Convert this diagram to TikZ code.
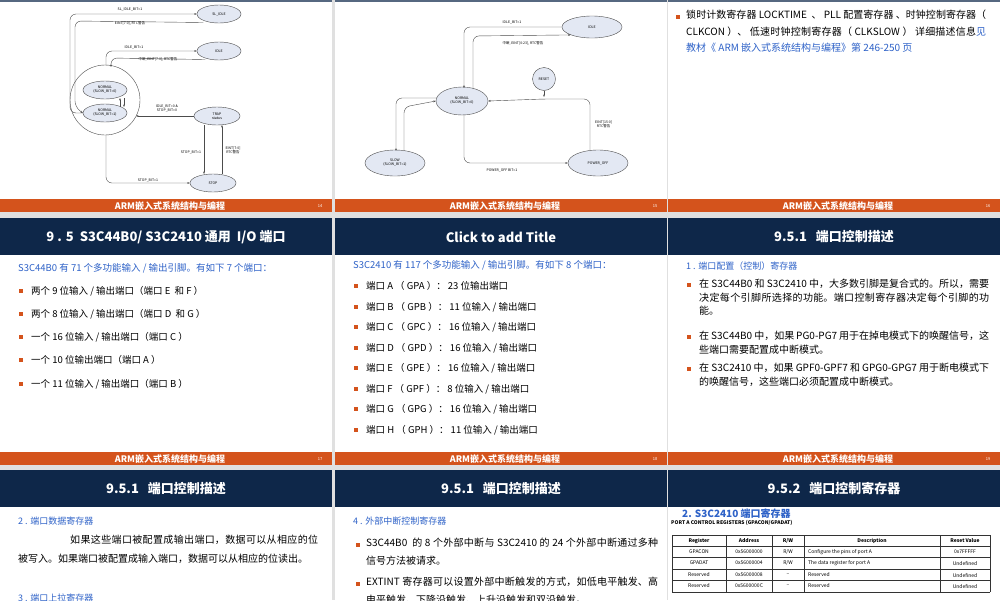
\documentclass[tikz,border=0pt]{standalone}
\usepackage{fontspec}
\setmainfont{Noto Sans CJK SC}
\XeTeXlinebreaklocale "zh"
\XeTeXlinebreakskip=0pt plus 1pt
\hyphenpenalty=10000 \exhyphenpenalty=10000
\usetikzlibrary{arrows.meta,shapes.geometric}
\definecolor{navy}{HTML}{0E2749}
\definecolor{orng}{HTML}{D4531C}
\definecolor{tblue}{HTML}{2E62C8}
\definecolor{ell}{HTML}{E3E8F3}
\tikzset{x=1pt,y=-1pt,
 hdr/.style={fill=navy,draw=none},
 foot/.style={fill=orng,draw=none},
 ftxt/.style={text=white,font=\fontsize{9}{9}\selectfont\bfseries},
 htxt/.style={text=white,font=\fontsize{13}{13}\selectfont\bfseries},
 st/.style={ellipse,draw=black!70,fill=ell,font=\fontsize{3.5}{4}\selectfont,align=center,inner sep=0pt},
 lb/.style={font=\fontsize{3.5}{4}\selectfont,align=center,inner sep=1pt},
 ar/.style={draw=black!70,line width=0.4pt,-{Stealth[length=2.5pt]},rounded corners=6pt},
 bt/.style={anchor=west,font=\fontsize{9.5}{10}\selectfont,inner sep=0pt},
 sq/.style={fill=orng,minimum size=4pt,inner sep=0pt},
 para/.style={anchor=north west,inner sep=0pt,align=justify},
 tc/.style={font=\fontsize{5}{5}\selectfont,inner sep=0pt},
}
\newcommand{\bul}[3]{\node[sq] at (#1,#2) {}; \node[bt] at (#1+10,#2) {#3};}
\begin{document}
\begin{tikzpicture}
\useasboundingbox (0,0) rectangle (1000,600);
\fill[black!12] (0,0) rectangle (1000,600);
\foreach \x in {0,335,668}{
 \fill[white] (\x,0) rectangle (\x+332,212);
 \fill[white] (\x,218) rectangle (\x+332,465);
 \fill[white] (\x,470) rectangle (\x+332,600);
 \fill[navy!70] (\x,0) rectangle (\x+332,1.5);
 \fill[foot] (\x,199) rectangle (\x+332,212);
 \fill[foot] (\x,452) rectangle (\x+332,465);
 \fill[hdr] (\x,218) rectangle (\x+332,255);
 \fill[hdr] (\x,470) rectangle (\x+332,507);
 \node[ftxt] at (\x+170,206) {ARM嵌入式系统结构与编程};
 \node[ftxt] at (\x+170,459) {ARM嵌入式系统结构与编程};
}
\foreach \x/\a/\b in {0/14/17,335/15/18,668/16/19}{
 \node[text=white,font=\fontsize{4}{4}\selectfont] at (\x+320,206) {\a};
 \node[text=white,font=\fontsize{4}{4}\selectfont] at (\x+320,459) {\b};
}
% ---- diagram 1
\draw[black!70,line width=0.4pt] (105,100) circle (35);
\node[st,minimum width=44pt,minimum height=18pt] (sli) at (219,14) {SL\_IDLE};
\node[st,minimum width=44pt,minimum height=18pt] (idl) at (219,51) {IDLE};
\node[st,minimum width=44pt,minimum height=18pt] (n0) at (105,90) {NORMAL\\(SLOW\_BIT=0)};
\node[st,minimum width=44pt,minimum height=18pt] (n1) at (105,113) {NORMAL\\(SLOW\_BIT=1)};
\node[st,minimum width=46pt,minimum height=18pt] (trp) at (217,116) {TRAP\\status};
\node[st,minimum width=46pt,minimum height=18pt] (stp) at (213,183) {STOP};
\draw[ar] (n1.west) -- (70,113) -- (70,14) -- (sli.west);
\draw[ar] (sli.south west) ++(0,2) -- (75,21) -- (75,107) -- (n1.west);
\node[lb] at (130,9) {SL\_IDLE\_BIT=1}; \node[lb] at (130,23) {EINT[7:0], RTC警告};
\draw[ar] (106,65) -- (106,51) -- (idl.west);
\draw[ar] (idl.south west) ++(2,2) -- (111,58) -- (111,67);
\node[lb] at (134,47) {IDLE\_BIT=1}; \node[lb] at (158,59) {中断, EINT[7:0], RTC警告};
\draw[ar] (124,98) -- (124,107);
\draw[ar] (120,107) -- (120,98);
\draw[ar] (trp.west) -- (136,116);
\node[lb] at (167,108) {IDLE\_BIT=0 \&\\STOP\_BIT=0};
\draw[ar] (204,125) -- (204,174);
\draw[ar] (222,174) -- (222,125);
\node[lb] at (191,152) {STOP\_BIT=1}; \node[lb] at (233,150) {EINT[7:0]\\RTC警告};
\draw[ar] (106,135) -- (106,183) -- (stp.west);
\node[lb] at (148,180) {STOP\_BIT=1};
% ---- diagram 2
\node[st,minimum width=60pt,minimum height=22pt] (i2) at (592,27) {IDLE};
\node[st,circle,minimum size=23pt] (rs) at (544,79) {RESET};
\node[st,minimum width=52pt,minimum height=28pt] (nm) at (462,101) {NORMAL\\(SLOW\_BIT=0)};
\node[st,minimum width=60pt,minimum height=26pt] (sl) at (395,163) {SLOW\\(SLOW\_BIT=1)};
\node[st,minimum width=60pt,minimum height=26pt] (po) at (598,163) {POWER\_OFF};
\draw[ar] (i2.west) -- (464,27) -- (464,88);
\draw[ar] (473,89) -- (473,36) -- (i2.south west);
\node[lb] at (512,22) {IDLE\_BIT=1}; \node[lb] at (523,43) {中断, EINT[0:23], RTC警告};
\draw[ar] (rs.south) -- (544,97);
\draw[ar] (590,151) -- (590,99) -- (544,99) -- (nm.east);
\node[lb,anchor=west] at (594,124) {EINT[15:0]\\RTC警告};
\draw[ar] (437,98) -- (396,98) -- (396,151);
\draw[ar] (404,151) -- (404,107) -- (nm.west);
\draw[ar] (464,115) -- (464,163) -- (po.west);
\node[lb] at (502,170) {POWER\_OFF BIT=1};
% ---- panel 16 text
\node[sq] at (678,17) {};
\node[para,text width=300pt,font=\fontsize{10}{16.5}\selectfont] at (686,10) {锁时计数寄存器 LOCKTIME \ 、 PLL 配置寄存器 、时钟控制寄存器（ CLKCON ）、 低速时钟控制寄存器（ CLKSLOW ） 详细描述信息{\color{tblue}见教材《 ARM 嵌入式系统结构与编程》第 246-250 页}};
% ---- headers
\node[htxt] at (166,237) {9 . 5 \ S3C44B0/ S3C2410 通用 \ I/O 端口};
\node[htxt] at (501,237) {Click to add Title};
\node[htxt] at (834,237) {9.5.1 \ \ 端口控制描述};
% panel 17
\node[bt,text=tblue] at (18,268) {S3C44B0 有 71 个多功能输入 / 输出引脚。有如下 7 个端口：};
\bul{21}{291}{两个 9 位输入 / 输出端口（端口 E \ 和 F ）}
\bul{21}{314}{两个 8 位输入 / 输出端口（端口 D \ 和 G ）}
\bul{21}{337}{一个 16 位输入 / 输出端口（端口 C ）}
\bul{21}{360}{一个 10 位输出端口（端口 A ）}
\bul{21}{384}{一个 11 位输入 / 输出端口（端口 B ）}
% panel 18
\node[bt,text=tblue] at (353,265) {S3C2410 有 117 个多功能输入 / 输出引脚。有如下 8 个端口：};
\bul{356}{286}{端口 A （ GPA ）： 23 位输出端口}
\bul{356}{307}{端口 B （ GPB ）： 11 位输入 / 输出端口}
\bul{356}{327}{端口 C （ GPC ）： 16 位输入 / 输出端口}
\bul{356}{348}{端口 D （ GPD ）： 16 位输入 / 输出端口}
\bul{356}{368}{端口 E （ GPE ）： 16 位输入 / 输出端口}
\bul{356}{389}{端口 F （ GPF ）： 8 位输入 / 输出端口}
\bul{356}{409}{端口 G （ GPG ）： 16 位输入 / 输出端口}
\bul{356}{430}{端口 H （ GPH ）： 11 位输入 / 输出端口}
% panel 19
\node[bt,text=tblue,font=\fontsize{9}{10}\selectfont] at (686,266) {1 . 端口配置（控制）寄存器};
\node[sq] at (689,285) {};
\node[para,text width=290pt,font=\fontsize{10}{13.5}\selectfont] at (699,279) {在 S3C44B0 和 S3C2410 中，大多数引脚是复合式的。所以，需要决定每个引脚所选择的功能。端口控制寄存器决定每个引脚的功能。};
\node[sq] at (689,337) {};
\node[para,text width=290pt,font=\fontsize{10}{13.5}\selectfont] at (699,331) {在 S3C44B0 中，如果 PG0-PG7 用于在掉电模式下的唤醒信号，这些端口需要配置成中断模式。};
\node[sq] at (689,369) {};
\node[para,text width=290pt,font=\fontsize{10}{13.5}\selectfont] at (699,363) {在 S3C2410 中，如果 GPF0-GPF7 和 GPG0-GPG7 用于断电模式下的唤醒信号，这些端口必须配置成中断模式。};
% row3
\node[htxt] at (166,489) {9.5.1 \ \ 端口控制描述};
\node[htxt] at (501,489) {9.5.1 \ \ 端口控制描述};
\node[htxt] at (834,489) {9.5.2 \ \ 端口控制寄存器};
\node[bt,text=tblue,font=\fontsize{9}{10}\selectfont] at (18,521) {2 . 端口数据寄存器};
\node[para,text width=300pt,font=\fontsize{10}{18.5}\selectfont] at (18,535) {\hspace*{52pt}如果这些端口被配置成输出端口，数据可以从相应的位被写入。如果端口被配置成输入端口，数据可以从相应的位读出。};
\node[bt,text=tblue,font=\fontsize{9}{10}\selectfont] at (18,598) {3 . 端口上拉寄存器};
\node[bt,text=tblue,font=\fontsize{9}{10}\selectfont] at (353,521) {4 . 外部中断控制寄存器};
\node[sq] at (358,545) {};
\node[para,text width=292pt,font=\fontsize{10}{18}\selectfont] at (366,538) {S3C44B0 \ 的 8 个外部中断与 S3C2410 的 24 个外部中断通过多种信号方法被请求。};
\node[sq] at (358,584) {};
\node[para,text width=292pt,font=\fontsize{10}{18}\selectfont] at (366,577) {EXTINT 寄存器可以设置外部中断触发的方式，如低电平触发、高电平触发、下降沿触发、上升沿触发和双沿触发。};
% table
\node[anchor=west,text=tblue,font=\fontsize{10}{10}\selectfont\bfseries,inner sep=0pt] at (682,514) {2. S3C2410 端口寄存器};
\node[anchor=west,font=\fontsize{5}{5}\selectfont\bfseries,inner sep=0pt] at (671,523) {PORT A CONTROL REGISTERS (GPACON/GPADAT)};
\foreach \y in {535,546,557,569,580,592} \draw[black!80,line width=0.3pt] (672,\y) -- (990,\y);
\foreach \x in {672,726,772,804,940,990} \draw[black!80,line width=0.3pt] (\x,535) -- (\x,592);
\foreach \y/\a/\b/\c/\e in {541/{\bfseries Register}/{\bfseries Address}/{\bfseries R/W}/{\bfseries Reset Value},552/GPACON/0x56000000/{R/W}/0x7FFFFF,563/GPADAT/0x56000004/{R/W}/Undefined,575/Reserved/0x56000008/--/Undefined,586/Reserved/0x5600000C/--/Undefined}{
 \node[tc] at (699,\y) {\a}; \node[tc] at (749,\y) {\b}; \node[tc] at (788,\y) {\c};
 \node[tc] at (965,\y) {\e};
}
\node[tc] at (872,541) {\bfseries Description};
\node[tc,anchor=west] at (808,552) {Configure the pins of port A};
\node[tc,anchor=west] at (808,563) {The data register for port A};
\node[tc,anchor=west] at (808,575) {Reserved};
\node[tc,anchor=west] at (808,586) {Reserved};
\end{tikzpicture}
\end{document}
